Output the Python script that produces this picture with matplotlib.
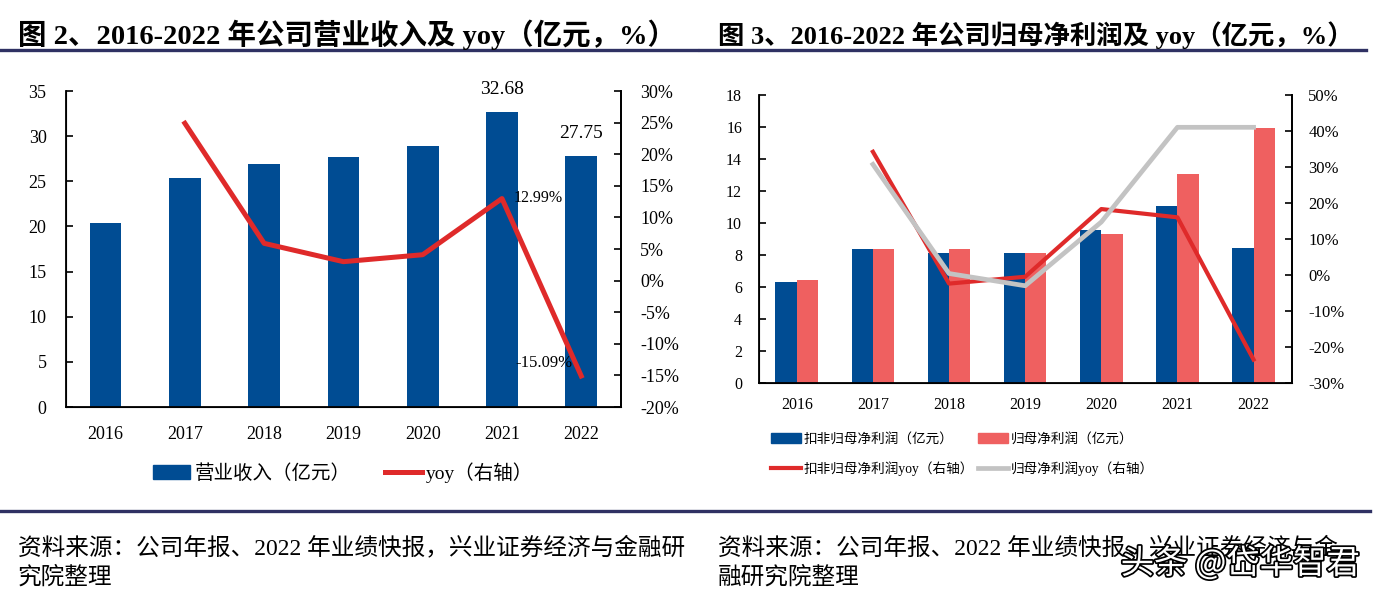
import numpy as np
import matplotlib
matplotlib.use("Agg")
import matplotlib.pyplot as plt
from matplotlib.lines import Line2D
from matplotlib.patches import Patch
import matplotlib.patheffects as pe

plt.rcParams['font.family'] = ['Liberation Serif', 'Noto Sans CJK SC', 'DejaVu Sans']
plt.rcParams['axes.unicode_minus'] = False

years = ["2016", "2017", "2018", "2019", "2020", "2021", "2022"]
# 图2 营业收入 (亿元) 及 yoy (%)
revenue = [20.4, 25.4, 26.9, 27.7, 28.92, 32.68, 27.75]
revenue_yoy = [np.nan, 24.9, 5.9, 3.0, 4.1, 12.99, -15.09]
# 图3 扣非归母净利润 / 归母净利润 (亿元) 及 yoy (%)
np_deducted = [6.28, 8.38, 8.14, 8.14, 9.58, 11.08, 8.45]
np_parent = [6.44, 8.38, 8.38, 8.14, 9.33, 13.08, 15.9]
np_deducted_yoy = [np.nan, 34.2, -2.4, -0.5, 18.3, 16.0, -23.5]
np_parent_yoy = [np.nan, 30.7, 0.4, -3.0, 14.7, 41.0, 41.0]

BLUE = "#004C93"
PINK = "#EF6060"
RED = "#DF2A2A"
GRAY = "#C3C3C3"
NAVY = "#2F3163"
CJK = ['Liberation Serif', 'Noto Sans CJK SC']

fig = plt.figure(figsize=(13.77, 5.99), dpi=100)
x = np.arange(len(years))

# ---- left chart ----
ax1 = fig.add_axes([0.0479, 0.3205, 0.403, 0.5275])
ax1.bar(x, revenue, width=0.40, color=BLUE, zorder=2)
ax1.set_xlim(-0.5, 6.5)
ax1.set_ylim(0, 35)
ax1.set_yticks(np.arange(0, 36, 5))
ax1.set_xticks(x)
ax1.set_xticklabels(years)
ax1.tick_params(axis='y', direction='in', length=5, width=1.2, labelsize=13, pad=14)
ax1.tick_params(axis='x', length=0, labelsize=13, pad=14)
ax1.spines['top'].set_visible(False)
for s in ['left', 'bottom', 'right']:
    ax1.spines[s].set_linewidth(1.3)
for i in (5, 6):
    ax1.text(x[i], revenue[i] + 1.6, f"{revenue[i]:.2f}", ha='center', va='bottom', fontsize=14)

ax1b = ax1.twinx()
ax1b.plot(x, revenue_yoy, color=RED, lw=3.6, zorder=3)
ax1b.set_ylim(-20, 30)
ax1b.set_yticks(np.arange(-20, 31, 5))
ax1b.set_yticklabels([f"{v}%" for v in range(-20, 31, 5)])
ax1b.tick_params(axis='y', direction='in', length=5, width=1.2, labelsize=13, pad=14)
ax1b.spines['top'].set_visible(False)
ax1b.spines['right'].set_linewidth(1.3)
ax1b.text(x[5] + 0.15, revenue_yoy[5] - 1.2, "12.99%", fontsize=11.5, ha='left', va='bottom')
ax1b.text(x[6] - 0.47, revenue_yoy[6] + 2.1, "-15.09%", fontsize=12, ha='center', va='center')

h1 = [Patch(color=BLUE), Line2D([], [], color=RED, lw=3.6)]
ax1.legend(h1, ["营业收入（亿元）", "yoy（右轴）"], loc='upper center', bbox_to_anchor=(0.5, -0.12),
           ncol=2, frameon=False, handlelength=1.9, columnspacing=1.8, handletextpad=0.2,
           prop={'family': CJK, 'size': 14})

# ---- right chart ----
ax2 = fig.add_axes([0.551, 0.3606, 0.387, 0.481])
w = 0.28
ax2.bar(x - w / 2, np_deducted, width=w, color=BLUE, zorder=2)
ax2.bar(x + w / 2, np_parent, width=w, color=PINK, zorder=2)
ax2.set_xlim(-0.5, 6.5)
ax2.set_ylim(0, 18)
ax2.set_yticks(np.arange(0, 19, 2))
ax2.set_xticks(x)
ax2.set_xticklabels(years)
ax2.tick_params(axis='y', direction='in', length=5, width=1.2, labelsize=11.5, pad=12)
ax2.tick_params(axis='x', length=0, labelsize=11.5, pad=10)
ax2.spines['top'].set_visible(False)
for s in ['left', 'bottom', 'right']:
    ax2.spines[s].set_linewidth(1.3)

ax2b = ax2.twinx()
ax2b.plot(x, np_deducted_yoy, color=RED, lw=3.0, zorder=3)
ax2b.plot(x, np_parent_yoy, color=GRAY, lw=3.4, zorder=4)
ax2b.set_ylim(-30, 50)
ax2b.set_yticks(np.arange(-30, 51, 10))
ax2b.set_yticklabels([f"{v}%" for v in range(-30, 51, 10)])
ax2b.tick_params(axis='y', direction='in', length=5, width=1.2, labelsize=12, pad=12)
ax2b.spines['top'].set_visible(False)
ax2b.spines['right'].set_linewidth(1.3)

h2 = [Patch(color=BLUE), Line2D([], [], color=RED, lw=3.0),
      Patch(color=PINK), Line2D([], [], color=GRAY, lw=3.4)]
l2 = ["扣非归母净利润（亿元）", "扣非归母净利润yoy（右轴）", "归母净利润（亿元）", "归母净利润yoy（右轴）"]
ax2.legend(h2, l2, loc='upper left', bbox_to_anchor=(0.0, -0.13), ncol=2, frameon=False,
           handlelength=2.2, columnspacing=0.3, handletextpad=0.2, labelspacing=1.15,
           prop={'family': CJK, 'size': 9.8})

# ---- titles, rules, sources ----
fig.text(18 / 1377, 1 - 35 / 599, "图 2、2016-2022 年公司营业收入及 yoy（亿元，%）", fontsize=20.5,
         fontweight='bold', va='center', ha='left', family=CJK)
fig.text(718 / 1377, 1 - 35 / 599, "图 3、2016-2022 年公司归母净利润及 yoy（亿元，%）", fontsize=19,
         fontweight='bold', va='center', ha='left', family=CJK)
fig.add_artist(Line2D([0, 697 / 1377], [1 - 50 / 599] * 2, color=NAVY, lw=2.4))
fig.add_artist(Line2D([700 / 1377, 1366 / 1377], [1 - 50 / 599] * 2, color=NAVY, lw=2.4))
fig.add_artist(Line2D([0, 1370 / 1377], [1 - 511 / 599] * 2, color=NAVY, lw=2.4))

fig.text(18 / 1377, 1 - 548 / 599, "资料来源：公司年报、2022 年业绩快报，兴业证券经济与金融研",
         fontsize=17, va='center', ha='left', family=CJK)
fig.text(18 / 1377, 1 - 577 / 599, "究院整理", fontsize=17, va='center', ha='left', family=CJK)
fig.text(718 / 1377, 1 - 548 / 599, "资料来源：公司年报、2022 年业绩快报，兴业证券经济与金",
         fontsize=17, va='center', ha='left', family=CJK)
fig.text(718 / 1377, 1 - 577 / 599, "融研究院整理", fontsize=17, va='center', ha='left', family=CJK)

# watermark overlaid on the source line, as in the reference
wm = fig.text(1360 / 1377, 1 - 564 / 599, "头条 @岱华智君", fontsize=24, color='white', va='center', ha='right',
              family=['Noto Sans CJK SC'])
wm.set_path_effects([pe.withStroke(linewidth=2.5, foreground='black')])

fig.savefig("out.png", dpi=100)
